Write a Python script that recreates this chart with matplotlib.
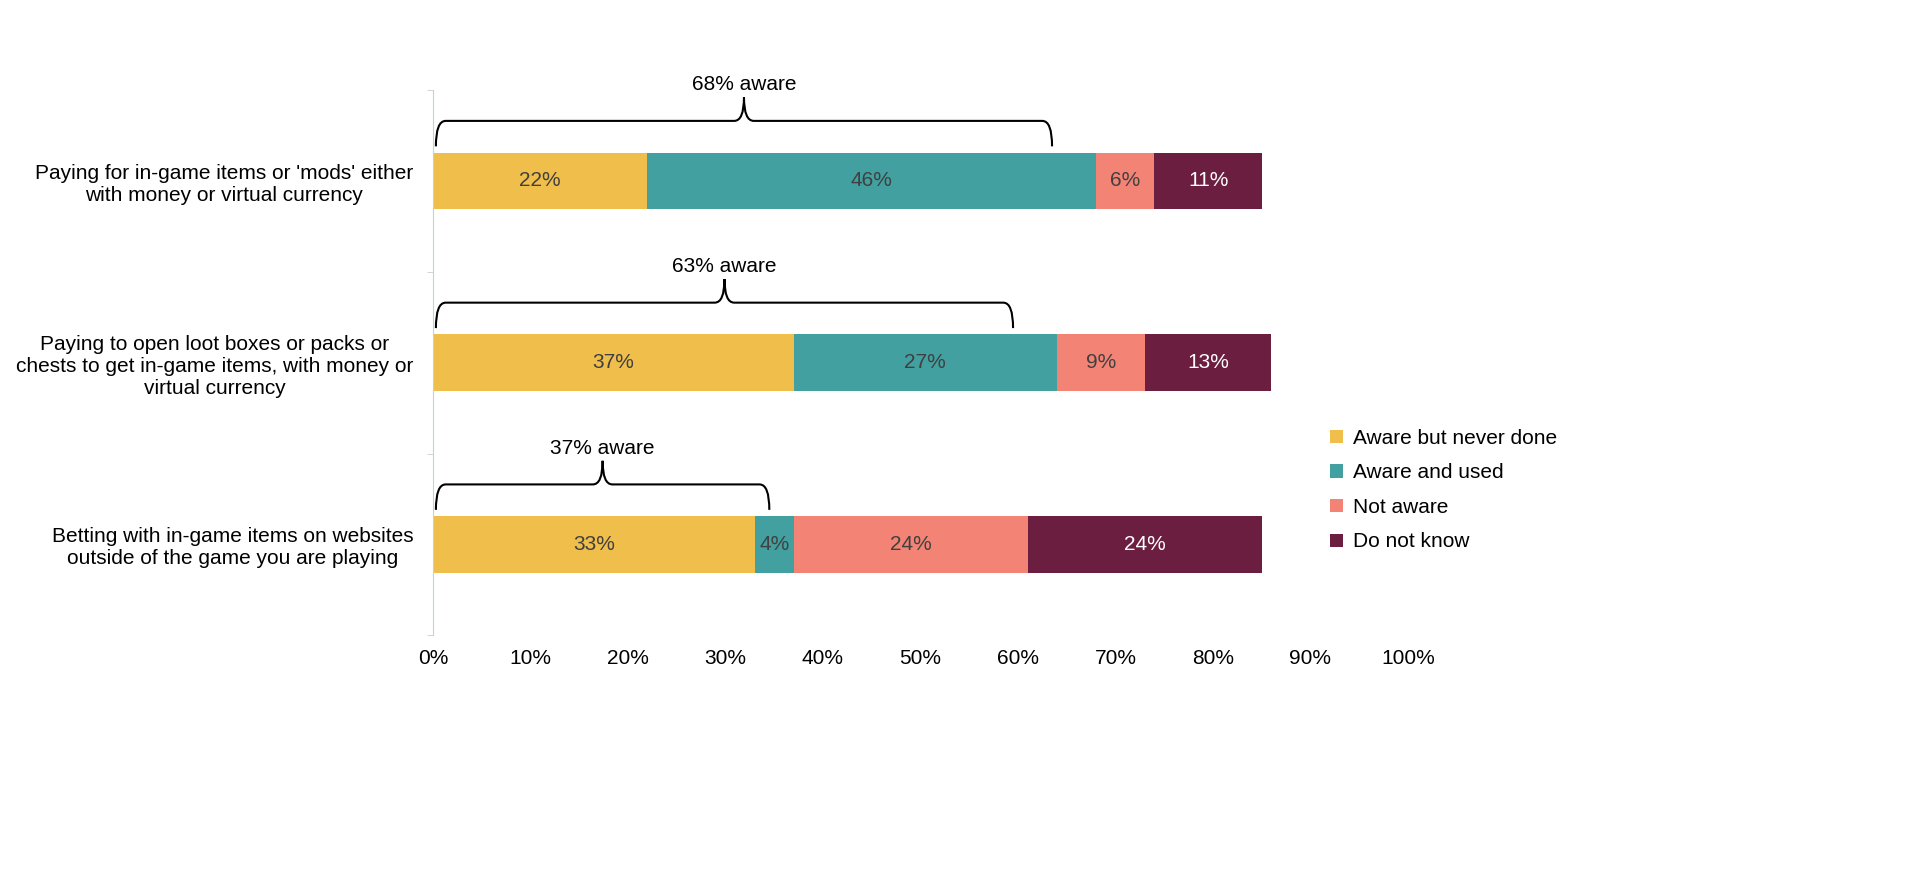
import matplotlib.pyplot as plt
from matplotlib.path import Path
from matplotlib.patches import PathPatch
import numpy as np

plt.rcParams["font.family"] = ["Liberation Sans", "DejaVu Sans"]

categories = [
    "Paying for in-game items or 'mods' either\nwith money or virtual currency",
    "Paying to open loot boxes or packs or\nchests to get in-game items, with money or\nvirtual currency",
    "Betting with in-game items on websites\noutside of the game you are playing",
]
series_names = ["Aware but never done", "Aware and used", "Not aware", "Do not know"]
values = np.array([
    [22, 46, 6, 11],
    [37, 27, 9, 13],
    [33, 4, 24, 24],
])
aware_labels = ["68% aware", "63% aware", "37% aware"]
brace_ends = [63.5, 59.5, 34.5]

colors = ["#F0BE4A", "#42A0A0", "#F38375", "#6B1E40"]
text_colors = ["#404040", "#404040", "#404040", "white"]

fig = plt.figure(figsize=(19.2, 8.91), dpi=100)
ax = fig.add_axes([0.2255, 0.287, 0.5078, 0.612])
y = np.arange(len(categories))

left = np.zeros(len(categories))
for j, name in enumerate(series_names):
    bars = ax.barh(y, values[:, j], left=left, height=0.31, color=colors[j], label=name)
    for rect, v in zip(bars, values[:, j]):
        ax.text(rect.get_x() + rect.get_width() / 2, rect.get_y() + rect.get_height() / 2,
                f"{v}%", ha="center", va="center", fontsize=15, color=text_colors[j])
    left += values[:, j]

# curly braces above each bar
for c, x1, lab in zip(y, brace_ends, aware_labels):
    x0 = 0.3
    mid = (x0 + x1) / 2
    yb, yl, yt = c - 0.19, c - 0.33, c - 0.46
    verts = [(x0, yb), (x0, yl), (x0 + 1, yl), (mid - 1, yl), (mid, yl), (mid, yt),
             (mid, yl), (mid + 1, yl), (x1 - 1, yl), (x1, yl), (x1, yb)]
    codes = [Path.MOVETO, Path.CURVE3, Path.CURVE3, Path.LINETO, Path.CURVE3, Path.CURVE3,
             Path.CURVE3, Path.CURVE3, Path.LINETO, Path.CURVE3, Path.CURVE3]
    ax.add_patch(PathPatch(Path(verts, codes), fill=False, lw=1.5, color="black"))
    ax.text(mid, c - 0.53, lab, ha="center", va="center", fontsize=15)

ax.set_xlim(0, 100)
ax.set_ylim(2.5, -0.5)
ax.set_xticks(np.arange(0, 101, 10))
ax.set_xticklabels([f"{t}%" for t in range(0, 101, 10)], fontsize=15)
ax.set_yticks(y)
ax.set_yticklabels(categories, fontsize=15, multialignment="center")
ax.set_yticks([-0.5, 0.5, 1.5, 2.5], minor=True)
ax.tick_params(axis="y", which="major", length=0, pad=14)
ax.tick_params(axis="y", which="minor", length=4, color="#C8D0D0")
ax.tick_params(axis="x", length=0, pad=10)
for s in ["top", "right", "bottom"]:
    ax.spines[s].set_visible(False)
ax.spines["left"].set_color("#C8D0D0")

handles, labels = ax.get_legend_handles_labels()
fig.legend(handles, labels, loc="center left", bbox_to_anchor=(0.683, 0.45), frameon=False,
           fontsize=15, handlelength=0.6, handleheight=0.6, handletextpad=0.5, labelspacing=0.75)

plt.savefig("out.png", dpi=100)
